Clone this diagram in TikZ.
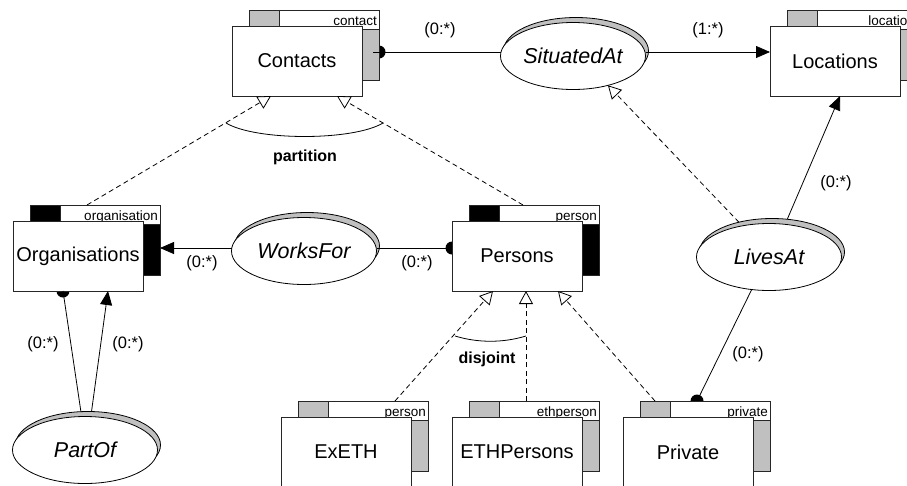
\documentclass[tikz,border=0pt]{standalone}
\usepackage{fontspec}
\setmainfont{Liberation Sans}
\usetikzlibrary{arrows.meta,shapes.geometric,calc}
\definecolor{panelgray}{RGB}{192,192,192}
\pgfdeclarelayer{bg}
\pgfsetlayers{bg,main}

\newcommand\entFont{\fontsize{20}{24}\selectfont}
\newcommand\tagFont{\fontsize{13.5}{16}\selectfont}
\newcommand\relFont{\fontsize{21.5}{26}\selectfont\itshape}
\newcommand\cardFont{\fontsize{16.5}{20}\selectfont}
\newcommand\consFont{\fontsize{16}{19}\selectfont\bfseries}

% entity: name, centre x, centre y, tag text, title, panel colour
\newcommand\entity[6]{%
  \node[panel, fill=#6] (#1-back) at (#2+17,#3-16) {};
  \draw[boxline, fill=white] ([xshift=30pt]#1-back.north west) rectangle ([yshift=-19pt]#1-back.north east);
  \node[tag, anchor=base east] (#1-tag) at ([xshift=-2pt,yshift=-15pt]#1-back.north east) {#4};
  \node[panel, fill=white, font=\entFont] (#1) at (#2,#3) {#5};
}

% relationship: name, centre x, centre y, title
\newcommand\relation[4]{%
  \node[rel, fill=panelgray] (#1-s) at (#2+3,#3-5) {};
  \node[rel, fill=white, font=\relFont] (#1) at (#2,#3) {#4};
}

\tikzset{
  boxline/.style={draw=black!85, line width=0.8pt},
  panel/.style={boxline, minimum width=130pt, minimum height=70pt, inner sep=0pt, outer sep=0pt},
  tag/.style={font=\tagFont, inner sep=0pt},
  rel/.style={ellipse, draw=black, line width=0.8pt, minimum width=145pt, minimum height=67pt, inner sep=0pt, outer sep=0pt},
  conn/.style={draw=black, line width=0.8pt},
  hasarrow/.style={conn, -{Triangle[length=14pt,width=12pt]}},
  isa/.style={conn, dash pattern=on 5pt off 3.5pt, -{Triangle[fill=white,length=13pt,width=14pt,line width=0.8pt]}},
  card/.style={font=\cardFont, inner sep=0pt},
  cons/.style={font=\consFont, inner sep=0pt},
}

\begin{document}
\begin{tikzpicture}[x=1pt,y=-1pt]
\useasboundingbox (0,0) rectangle (907,485);
\clip (0,0) rectangle (907,485);

% entities
\entity{con}{297}{61}{contact}{Contacts}{panelgray}
\entity{loc}{835}{61}{location}{Locations}{panelgray}
\entity{org}{78}{256}{organisation}{Organisations}{black}
\entity{per}{517}{256}{person}{Persons}{black}
\entity{exe}{346}{452}{person}{ExETH}{panelgray}
\entity{eth}{517}{452}{ethperson}{ETHPersons}{panelgray}
\entity{pri}{688}{452}{private}{Private}{panelgray}

% relationships
\relation{sit}{573}{56}{SituatedAt}
\relation{wf}{304}{251}{WorksFor}
\relation{lv}{769}{257}{LivesAt}
\relation{po}{85}{450}{PartOf}

% anchor points of the connectors
\coordinate (condot) at ([yshift=-7pt]con-back.east);
\coordinate (wfL) at ([yshift=3pt]wf.west);
\coordinate (wfR) at ([yshift=3pt]wf.east);
\coordinate (orgdot) at ([xshift=-15pt]org.south);
\coordinate (orgin) at ([xshift=30pt]org.south);
\coordinate (pridot) at ([xshift=-8pt]pri-back.north);

% SituatedAt
\draw[conn] ([xshift=-6pt]condot) -- (condot -| sit.west);
\draw[hasarrow] (condot -| sit.east) -- (condot -| loc.west);
\node[card] (c1) at (440,30) {(0:*)};
\node[card] (c2) at (708,30) {(1:*)};

% WorksFor
\draw[hasarrow] (wfL) -- (wfL -| org-back.east);
\draw[conn] (wfR) -- (wfR -| per.west);
\node[card] (c3) at (202,263) {(0:*)};
\node[card] (c4) at (417,263) {(0:*)};

% PartOf
\draw[conn] (orgdot) -- (po-s.102);
\draw[hasarrow] (po-s.84) -- (orgin);
\node[card] (c5) at (43,344) {(0:*)};
\node[card] (c6) at (128,344) {(0:*)};

% LivesAt
\draw[hasarrow] (lv-s.65) -- ([xshift=5pt]loc.south);
\draw[conn] (lv.-118) -- (pridot);
\draw[isa] (lv-s.138) -- (sit.-40);
\node[card] (c7) at (836,183) {(0:*)};
\node[card] (c8) at (748,354) {(0:*)};

% partition of Contacts
\draw[isa] ([xshift=-8pt]org-back.north) -- ([xshift=-26pt]con.south);
\draw[isa] ([xshift=-11pt]per-back.north) -- ([xshift=40pt]con.south);
\draw[conn] (226,123) .. controls (256,141) and (353,141) .. (383,123);
\node[cons] (part) at (305,157) {partition};

% disjoint specialisations of Persons
\draw[isa] ([xshift=32pt]exe-back.north) -- ([xshift=-24pt]per.south);
\draw[isa] ([xshift=-8pt]eth-back.north) -- ([xshift=9pt]per.south);
\draw[isa] ([xshift=-50pt]pri-back.north) -- ([xshift=41pt]per.south);
\draw[conn] (455,336) .. controls (478,343) and (503,343) .. (526,336);
\node[cons] (disj) at (487,359) {disjoint};

% half-disc role markers, partly hidden by the boxes
\begin{pgfonlayer}{bg}
  \fill (condot) circle[radius=6.5];
  \fill (wfR -| per.west) circle[radius=6.5];
  \fill (orgdot) circle[radius=6.5];
  \fill (pridot) circle[radius=6.5];
\end{pgfonlayer}
\end{tikzpicture}
\end{document}
